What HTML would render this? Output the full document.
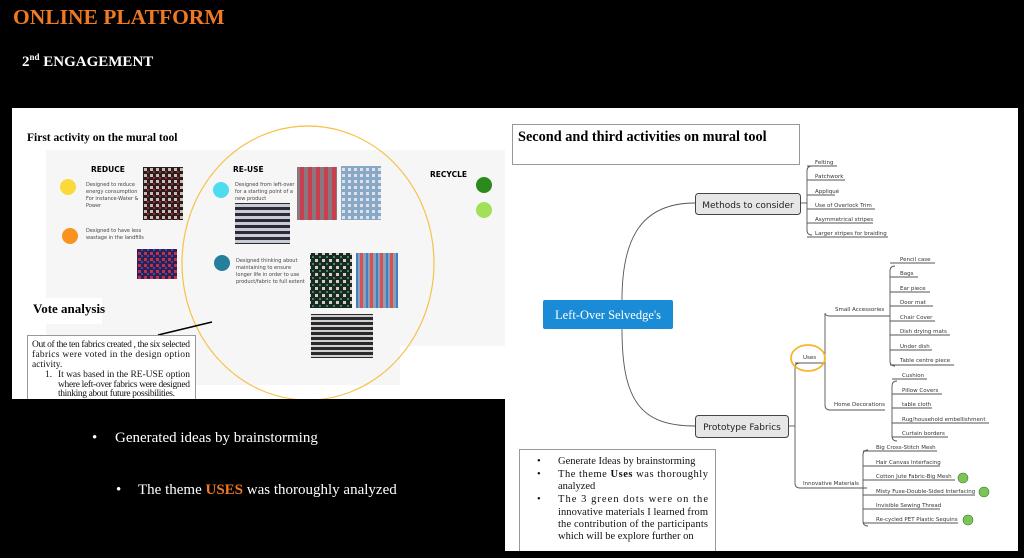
<!DOCTYPE html>
<html><head><meta charset="utf-8"><style>
html,body{margin:0;padding:0;background:#000;width:1024px;height:558px;overflow:hidden}
svg{display:block}
.s{font-family:"Liberation Serif",serif}
.a{font-family:"DejaVu Sans","Liberation Sans",sans-serif}
</style></head><body>
<svg width="1024" height="558" viewBox="0 0 1024 558" xmlns="http://www.w3.org/2000/svg">
<defs>
<pattern id="p1" width="6" height="6" patternUnits="userSpaceOnUse"><rect width="6" height="6" fill="#2a1d1d"/><rect width="3" height="3" fill="#c8c0b8"/><rect x="3" y="3" width="2" height="2" fill="#b02030"/></pattern>
<pattern id="p2" width="8" height="6" patternUnits="userSpaceOnUse"><rect width="8" height="6" fill="#2a2a3a"/><rect width="8" height="3" fill="#c8ccd0"/></pattern>
<pattern id="p3" width="8" height="8" patternUnits="userSpaceOnUse"><rect width="8" height="8" fill="#c84050"/><rect width="4" height="8" fill="#8a7880"/></pattern>
<pattern id="p4" width="6" height="6" patternUnits="userSpaceOnUse"><rect width="6" height="6" fill="#88a8c8"/><rect width="3" height="3" fill="#e0e0e8"/></pattern>
<pattern id="p5" width="7" height="7" patternUnits="userSpaceOnUse"><rect width="7" height="7" fill="#1a2a20"/><rect width="3" height="3" fill="#d0d0c8"/><rect x="4" y="4" width="2" height="2" fill="#3a8a6a"/></pattern>
<pattern id="p6" width="10" height="8" patternUnits="userSpaceOnUse"><rect width="10" height="8" fill="#8aa0b8"/><rect width="3" height="8" fill="#d85050"/><rect x="6" width="2" height="8" fill="#4080c0"/></pattern>
<pattern id="p7" width="6" height="5" patternUnits="userSpaceOnUse"><rect width="6" height="5" fill="#2a2a2a"/><rect width="6" height="2" fill="#d0d0d0"/></pattern>
<pattern id="p8" width="6" height="6" patternUnits="userSpaceOnUse"><rect width="6" height="6" fill="#302050"/><rect width="3" height="3" fill="#c03050"/><rect x="3" y="3" width="2" height="2" fill="#3050c0"/></pattern>
</defs>

<text x="13" y="24" class="s" font-size="21.5" font-weight="bold" fill="#f07a22">ONLINE PLATFORM</text>
<text x="22" y="66" class="s" font-size="15" font-weight="bold" fill="#fff">2<tspan font-size="9" dy="-6">nd</tspan><tspan dy="6"> ENGAGEMENT</tspan></text>

<!-- left panel -->
<rect x="12" y="108" width="495" height="291" fill="#fff"/>
<rect x="46" y="150" width="459" height="235" fill="#f6f6f6"/>
<rect x="400" y="346" width="105" height="40" fill="#fff"/>
<text x="27" y="141" class="s" font-size="11.5" font-weight="bold">First activity on the mural tool</text>
<text x="91" y="172" class="a" font-size="7.5" font-weight="bold">REDUCE</text>
<circle cx="68" cy="187" r="8" fill="#fcd93a"/>
<circle cx="70" cy="236" r="8" fill="#f7931e"/>
<text class="a" font-size="5" fill="#444"><tspan x="86" y="186">Designed to reduce</tspan><tspan x="86" y="193">energy consumption</tspan><tspan x="86" y="200">For instance-Water &amp;</tspan><tspan x="86" y="207">Power</tspan><tspan x="86" y="232">Designed to have less</tspan><tspan x="86" y="239">wastage in the landfills</tspan></text>
<rect x="143" y="167" width="40" height="53" fill="url(#p1)"/>
<rect x="137" y="249" width="40" height="30" fill="url(#p8)"/>
<text x="233" y="172" class="a" font-size="7.5" font-weight="bold">RE-USE</text>
<circle cx="221" cy="190" r="8" fill="#4ddcf0"/>
<circle cx="222" cy="263" r="8" fill="#237f9b"/>
<text class="a" font-size="5" fill="#444"><tspan x="235" y="186">Designed from left-over</tspan><tspan x="235" y="193">for a starting point of a</tspan><tspan x="235" y="200">new product</tspan><tspan x="236" y="262">Designed thinking about</tspan><tspan x="236" y="269">maintaining to ensure</tspan><tspan x="236" y="276">longer life in order to use</tspan><tspan x="236" y="283">product/fabric to full extent</tspan></text>
<rect x="297" y="167" width="40" height="53" fill="url(#p3)"/>
<rect x="341" y="166" width="40" height="54" fill="url(#p4)"/>
<rect x="235" y="203" width="55" height="41" fill="url(#p2)"/>
<rect x="310" y="253" width="42" height="55" fill="url(#p5)"/>
<rect x="356" y="253" width="42" height="55" fill="url(#p6)"/>
<rect x="311" y="314" width="62" height="44" fill="url(#p7)"/>
<text x="430" y="177" class="a" font-size="7.5" font-weight="bold">RECYCLE</text>
<circle cx="484" cy="185" r="8" fill="#2a8a1e"/>
<circle cx="484" cy="210" r="8" fill="#a2e05a"/>
<ellipse cx="308" cy="263" rx="126" ry="137" fill="none" stroke="#f7c14a" stroke-width="1.2"/>
<rect x="30" y="298" width="72" height="26" fill="#fff"/>
<text x="33" y="313" class="s" font-size="13" font-weight="bold">Vote analysis</text>
<line x1="158" y1="335" x2="212" y2="322" stroke="#000" stroke-width="1.5"/>
<rect x="27.5" y="335.5" width="168" height="70" fill="#fff" stroke="#999"/>
<g class="s" font-size="9.5" fill="#111">
<text x="32" y="347" textLength="158" lengthAdjust="spacing">Out of the ten fabrics created , the six selected</text>
<text x="32" y="357" textLength="158" lengthAdjust="spacing">fabrics were voted in the design option</text>
<text x="32" y="367">activity.</text>
<text x="45" y="377">1.</text>
<text x="58" y="377" textLength="132" lengthAdjust="spacing">It was based in the RE-USE option</text>
<text x="58" y="387" textLength="132" lengthAdjust="spacing">where left-over fabrics were designed</text>
<text x="58" y="396" textLength="117" lengthAdjust="spacing">thinking about future possibilities.</text>
</g>
<rect x="0" y="399" width="505" height="10" fill="#000"/>

<!-- bottom left bullets -->
<text class="s" font-size="15" fill="#fff"><tspan x="92" y="442">•</tspan><tspan x="115" y="442">Generated ideas by brainstorming</tspan><tspan x="116" y="494">•</tspan><tspan x="138" y="494">The theme </tspan><tspan fill="#f07a22" font-weight="bold">USES</tspan><tspan> was thoroughly analyzed</tspan></text>

<!-- right panel -->
<rect x="505" y="108" width="513" height="443" fill="#fff"/>
<rect x="512.5" y="124.5" width="287" height="40" fill="#fff" stroke="#999"/>
<text x="518" y="141" class="s" font-size="14.3" font-weight="bold">Second and third activities  on mural tool</text>

<g fill="none" stroke="#555" stroke-width="0.9">
<path d="M622 300 C622 240,640 203,695 203"/>
<path d="M622 329 C622 400,640 426,695 426"/>
<path d="M801 203 H807"/>
<path d="M812 166 Q807 166 807 171 V230 Q807 235 812 235"/>
<path d="M789 426 H795"/>
<path d="M800 363 Q795 363 795 368 V483 Q795 488 800 488 H867"/>
<path d="M795 363 H825"/>
<path d="M825 363 V313 Q825 316 830 316 H890 M825 363 V405 Q825 410 830 410 H885"/>
<path d="M895 266 Q890 266 890 271 V361 Q890 366 895 366"/>
<path d="M897 381 Q892 381 892 386 V436 Q892 441 897 441"/>
<path d="M868 450 Q863 450 863 455 V521 Q863 526 868 526"/>
</g>
<g stroke="#555" stroke-width="0.9">
<line x1="807" y1="166" x2="837" y2="166"/><line x1="807" y1="180" x2="845" y2="180"/><line x1="807" y1="195" x2="835" y2="195"/><line x1="807" y1="209" x2="875" y2="209"/><line x1="807" y1="223" x2="873" y2="223"/><line x1="807" y1="237" x2="888" y2="237"/>
<line x1="890" y1="263" x2="935" y2="263"/><line x1="890" y1="277" x2="918" y2="277"/><line x1="890" y1="292" x2="930" y2="292"/><line x1="890" y1="306" x2="933" y2="306"/><line x1="890" y1="321" x2="935" y2="321"/><line x1="890" y1="335" x2="950" y2="335"/><line x1="890" y1="350" x2="932" y2="350"/><line x1="890" y1="365" x2="954" y2="365"/>
<line x1="892" y1="379" x2="927" y2="379"/><line x1="892" y1="394" x2="942" y2="394"/><line x1="892" y1="408" x2="932" y2="408"/><line x1="892" y1="423" x2="989" y2="423"/><line x1="892" y1="437" x2="948" y2="437"/>
<line x1="863" y1="451" x2="937" y2="451"/><line x1="863" y1="466" x2="940" y2="466"/><line x1="863" y1="480" x2="955" y2="480"/><line x1="863" y1="495" x2="975" y2="495"/><line x1="863" y1="509" x2="940" y2="509"/><line x1="863" y1="523" x2="958" y2="523"/>
</g>
<rect x="695.5" y="193.5" width="105" height="21" rx="3" fill="#e6e6e6" stroke="#444"/>
<text x="748" y="208" class="a" font-size="9" text-anchor="middle" fill="#222">Methods to consider</text>
<rect x="695.5" y="415.5" width="93" height="22" rx="3" fill="#e6e6e6" stroke="#444"/>
<text x="742" y="430" class="a" font-size="9" text-anchor="middle" fill="#222">Prototype Fabrics</text>
<rect x="543" y="300" width="130" height="29" rx="2" fill="#1a8bd6"/>
<text x="608" y="319" class="s" font-size="12.5" text-anchor="middle" fill="#fff">Left-Over Selvedge's</text>
<g class="a" font-size="5.5" fill="#333">
<text x="815" y="164">Felting</text><text x="815" y="178">Patchwork</text><text x="815" y="193">Appliqué</text><text x="815" y="207">Use of Overlock Trim</text><text x="815" y="221">Asymmetrical stripes</text><text x="815" y="235">Larger stripes for braiding</text>
<text x="900" y="261">Pencil case</text><text x="900" y="275">Bags</text><text x="900" y="290">Ear piece</text><text x="900" y="304">Door mat</text><text x="900" y="319">Chair Cover</text><text x="900" y="333">Dish drying  mats</text><text x="900" y="348">Under dish</text><text x="900" y="362">Table centre piece</text>
<text x="902" y="377">Cushion</text><text x="902" y="392">Pillow Covers</text><text x="902" y="406">table cloth</text><text x="902" y="421">Rug/household embellishment</text><text x="902" y="435">Curtain borders</text>
<text x="876" y="449">Big Cross-Stitch Mesh</text><text x="876" y="464">Hair Canvas Interfacing</text><text x="876" y="478">Cotton Jute Fabric-Big Mesh</text><text x="876" y="493">Misty Fuse-Double-Sided Interfacing</text><text x="876" y="507">Invisible Sewing Thread</text><text x="876" y="521">Re-cycled PET Plastic Sequins</text>
<text x="835" y="311">Small Accessories</text><text x="834" y="406">Home Decorations</text><text x="803" y="485">Innovative Materials</text><text x="803" y="359">Uses</text>
</g>
<ellipse cx="808" cy="358" rx="17" ry="13" fill="none" stroke="#f7b52a" stroke-width="1.8"/>
<circle cx="963" cy="478" r="5" fill="#7cc45a" stroke="#3a7a2a" stroke-width="0.6"/>
<circle cx="984" cy="492" r="5" fill="#7cc45a" stroke="#3a7a2a" stroke-width="0.6"/>
<circle cx="968" cy="520" r="5" fill="#7cc45a" stroke="#3a7a2a" stroke-width="0.6"/>
<rect x="519.5" y="449.5" width="196" height="105" fill="#fff" stroke="#999"/>
<g class="s" font-size="10.5" fill="#111">
<text x="537" y="464">•</text><text x="558" y="464">Generate Ideas by brainstorming</text>
<text x="537" y="477">•</text><text x="558" y="477" textLength="150" lengthAdjust="spacing">The theme <tspan font-weight="bold">Uses</tspan> was thoroughly</text>
<text x="558" y="489">analyzed</text>
<text x="537" y="502">•</text><text x="558" y="502" textLength="150" lengthAdjust="spacing">The 3 green dots were on the</text>
<text x="558" y="515" textLength="150" lengthAdjust="spacing">innovative materials I learned from</text>
<text x="558" y="527" textLength="150" lengthAdjust="spacing">the contribution of the participants</text>
<text x="558" y="539">which will be explore further on</text>
</g>
<rect x="505" y="551" width="519" height="7" fill="#000"/>
</svg>
</body></html>
